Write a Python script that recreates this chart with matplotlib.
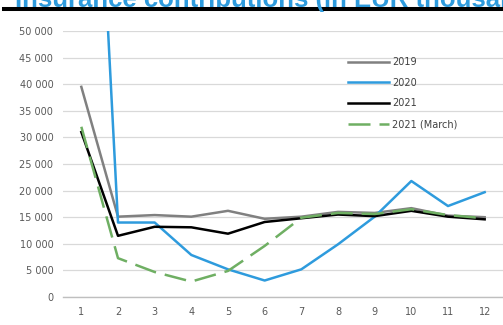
import matplotlib
matplotlib.use("Agg")
import matplotlib.pyplot as plt
from matplotlib.ticker import FuncFormatter, MultipleLocator

# Monthly contributions, EUR thousand
months = list(range(1, 13))
y2019 = [39500, 15100, 15400, 15100, 16200, 14700, 15100, 16000, 15800, 16700, 15300, 15000]
y2020 = [147000, 14000, 14000, 7900, 5200, 3100, 5200, 9900, 15100, 21800, 17100, 19700]
y2021 = [31000, 11500, 13200, 13100, 11900, 14100, 14800, 15500, 15200, 16200, 15100, 14600]
y2021_march = [32000, 7300, 4700, 2900, 4900, 9600, 14900, 15800, 15600, 16500, 15400, 14800]

title = "Insurance contributions (in EUR thousand)"

narrow = ["Liberation Sans Narrow", "DejaVu Sans"]

fig = plt.figure(figsize=(5.03, 3.25), dpi=100)
ax = fig.add_axes([63 / 503, 1 - 297 / 325, 440 / 503, 266 / 325])

ax.plot(months, y2019, color="#808080", lw=1.8, label="2019")
ax.plot(months, y2020, color="#2E9BDD", lw=1.8, label="2020")
ax.plot(months, y2021, color="black", lw=1.8, label="2021")
ax.plot(months, y2021_march, color="#6FAF63", lw=1.8, dashes=(8.8, 3.6),
        label="2021 (March)")

ax.set_xlim(0.5, 12.5)
ax.set_ylim(0, 50000)
ax.set_xticks(months)
ax.yaxis.set_major_locator(MultipleLocator(5000))
ax.yaxis.set_major_formatter(FuncFormatter(lambda v, p: f"{int(v):,}".replace(",", " ")))

ax.grid(axis="y", color="#D9D9D9", lw=0.9)
ax.set_axisbelow(True)
for s in ["top", "right", "left"]:
    ax.spines[s].set_visible(False)
ax.spines["bottom"].set_color("#BFBFBF")
ax.spines["bottom"].set_linewidth(1.0)
ax.tick_params(length=0, labelsize=7, labelcolor="#595959")
ax.tick_params(axis="y", pad=7)
ax.tick_params(axis="x", pad=7)
for lab in ax.get_xticklabels() + ax.get_yticklabels():
    lab.set_family(narrow)

leg = ax.legend(loc="upper left", bbox_to_anchor=(348 / 503, 1 - 57 / 325),
                bbox_transform=fig.transFigure, frameon=False, borderpad=0,
                borderaxespad=0, handlelength=4.2, handletextpad=0.35,
                labelspacing=1.1, prop={"family": narrow, "size": 7})
for t in leg.get_texts():
    t.set_color("#404040")

# Heading with rule underneath (sits mostly above the top edge)
fig.text(15 / 503, 1 - 6.5 / 325, title, color="#2E9BDD", fontsize=18.5,
         fontweight="bold", family="Liberation Sans", va="baseline", ha="left")
fig.add_artist(plt.Line2D([4 / 503, 1], [1 - 9 / 325] * 2, color="black", lw=2.9,
                          transform=fig.transFigure))

fig.savefig("out.png", dpi=100)
